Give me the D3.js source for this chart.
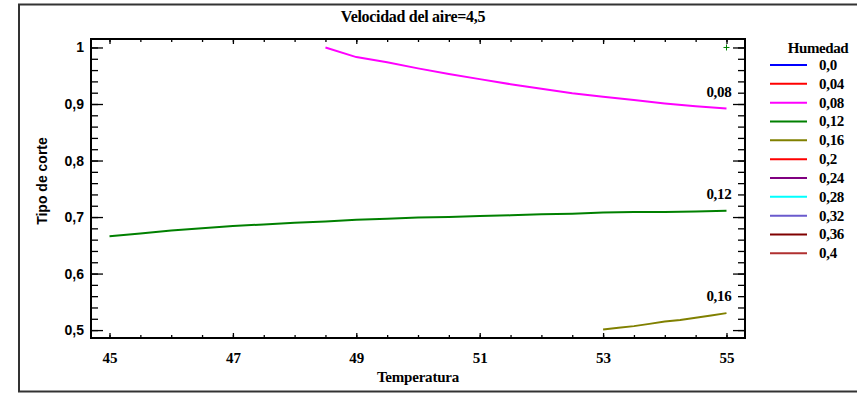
<!DOCTYPE html>
<html><head><meta charset="utf-8">
<script src="https://cdn.jsdelivr.net/npm/d3@7"></script>
<style>body{margin:0;background:#fff;}svg{display:block;}</style>
</head><body>
<svg id="c" width="857" height="393"></svg>
<script>
// ---- data ----
const title = "Velocidad del aire=4,5";
const xLabel = "Temperatura";
const yLabel = "Tipo de corte";
const legendTitle = "Humedad";
const legendLabels = ["0,0","0,04","0,08","0,12","0,16","0,2","0,24","0,28","0,32","0,36","0,4"];
const legendColors = ["#0000ff","#ff0000","#ff00ff","#008000","#808000","#ff0000","#800080","#00ffff","#6a5acd","#800000","#b03030"];
const xTicks = [45,47,49,51,53,55];
const yTicks = [0.5,0.6,0.7,0.8,0.9,1];

const temp08 = [48.5,49,49.5,50,50.5,51,51.5,52,52.5,53,53.5,54,54.5,55];
const val08  = [1.0,0.983,0.974,0.963,0.953,0.944,0.935,0.927,0.919,0.913,0.907,0.901,0.896,0.892];
const temp12 = [45,45.5,46,46.5,47,47.5,48,48.5,49,49.5,50,50.5,51,51.5,52,52.5,53,53.5,54,54.5,55];
const val12  = [0.666,0.671,0.676,0.680,0.684,0.687,0.690,0.692,0.695,0.697,0.699,0.700,0.702,0.703,0.705,0.706,0.708,0.709,0.709,0.710,0.711];
const temp16 = [53,53.25,53.5,53.75,54,54.25,54.5,54.75,55];
const val16  = [0.501,0.504,0.507,0.511,0.515,0.518,0.522,0.526,0.530];
const markerPoint = [55, 1.0];

const series = [
  {label:"0,08", color:"#ff00ff", t:temp08, v:val08},
  {label:"0,12", color:"#008000", t:temp12, v:val12},
  {label:"0,16", color:"#808000", t:temp16, v:val16}
];

(function(){
// ---- layout ----
const L = 91, R = 745, T = 39, B = 338;
const svg = d3.select("#c");
const serif = "'Liberation Serif','Times New Roman',serif";
const sans = "'Liberation Sans',Arial,sans-serif";

const x = d3.scaleLinear().domain([44.7,55.3]).range([L,R]);
const y = d3.scaleLinear().domain([0.486,1.015]).range([B,T]);

// outer frame
svg.append("rect").attr("x",19).attr("y",4.5).attr("width",860).attr("height",387)
  .attr("fill","none").attr("stroke","#333").attr("stroke-width",2);

// title
svg.append("text").attr("x",413).attr("y",22).attr("text-anchor","middle")
  .attr("font-family",serif).attr("font-weight","bold").attr("font-size",16)
  .attr("letter-spacing",-0.3).text(title);

const fmt = d => d3.format(".1f")(d).replace(".",",").replace(/^1,0$/,"1");

// axes
const minorX = d3.range(45,55.01,0.5);
const minorY = d3.range(0.5,1.001,0.02);

svg.append("g").attr("transform",`translate(0,${B})`)
  .call(d3.axisBottom(x).tickValues(minorX).tickSize(-3).tickFormat(""));
const bottomMaj = svg.append("g").attr("transform",`translate(0,${B})`)
  .call(d3.axisBottom(x).tickValues(xTicks).tickSize(-5).tickPadding(14).tickFormat(d3.format("d")));
svg.append("g").attr("transform",`translate(0,${T})`)
  .call(d3.axisTop(x).tickValues(minorX).tickSize(-3).tickFormat(""));
svg.append("g").attr("transform",`translate(0,${T})`)
  .call(d3.axisTop(x).tickValues(xTicks).tickSize(-5).tickFormat(""));
svg.append("g").attr("transform",`translate(${L},0)`)
  .call(d3.axisLeft(y).tickValues(minorY).tickSize(-7).tickFormat(""));
const leftMaj = svg.append("g").attr("transform",`translate(${L},0)`)
  .call(d3.axisLeft(y).tickValues(yTicks).tickSize(-12).tickPadding(7).tickFormat(fmt));
svg.append("g").attr("transform",`translate(${R},0)`)
  .call(d3.axisRight(y).tickValues(minorY).tickSize(-7).tickFormat(""));
svg.append("g").attr("transform",`translate(${R},0)`)
  .call(d3.axisRight(y).tickValues(yTicks).tickSize(-12).tickFormat(""));

svg.selectAll(".domain").remove();
svg.selectAll(".tick line").attr("stroke","#000").attr("stroke-width",1.3);
bottomMaj.selectAll("text").attr("font-family",serif).attr("font-weight","bold").attr("font-size",15).attr("fill","#000");
leftMaj.selectAll("text").attr("font-family",sans).attr("font-weight","bold").attr("font-size",14).attr("fill","#000");

svg.append("rect").attr("x",L).attr("y",T).attr("width",R-L).attr("height",B-T)
  .attr("fill","none").attr("stroke","#000").attr("stroke-width",2);

// axis labels
svg.append("text").attr("x",418).attr("y",382).attr("text-anchor","middle")
  .attr("font-family",serif).attr("font-weight","bold").attr("font-size",15)
  .attr("letter-spacing",-0.2).text(xLabel);
svg.append("text").attr("transform","translate(47,181) rotate(-90)").attr("text-anchor","middle")
  .attr("font-family",sans).attr("font-weight","bold").attr("font-size",14).text(yLabel);

// lines
const line = d3.line().x(d=>x(d[0])).y(d=>y(d[1]));
series.forEach(s=>{
  const pts = s.t.map((t,i)=>[t,s.v[i]]);
  svg.append("path").attr("d",line(pts)).attr("fill","none")
    .attr("stroke",s.color).attr("stroke-width",2);
  const last = pts[pts.length-1];
  svg.append("text").attr("x",x(last[0])+5).attr("y",y(last[1])-12).attr("text-anchor","end")
    .attr("font-family",serif).attr("font-weight","bold").attr("font-size",15)
    .attr("letter-spacing",-0.3).text(s.label);
});

// marker
const mx = x(markerPoint[0]), my = y(markerPoint[1]);
svg.append("path").attr("d",`M${mx-3},${my}H${mx+3}M${mx},${my-3}V${my+3}`)
  .attr("stroke","#008000").attr("stroke-width",1);

// legend
const lg = svg.append("g");
lg.append("text").attr("x",818).attr("y",53).attr("text-anchor","middle")
  .attr("font-family",serif).attr("font-weight","bold").attr("font-size",15)
  .attr("letter-spacing",-0.4).text(legendTitle);
legendLabels.forEach((lab,i)=>{
  const yy = 65 + i*18.83;
  lg.append("line").attr("x1",770).attr("x2",807).attr("y1",yy).attr("y2",yy)
    .attr("stroke",legendColors[i]).attr("stroke-width",2);
  lg.append("text").attr("x",819).attr("y",yy+5).attr("font-family",serif)
    .attr("font-weight","bold").attr("font-size",15).attr("letter-spacing",-0.3).text(lab);
});
})();
</script>
</body></html>
